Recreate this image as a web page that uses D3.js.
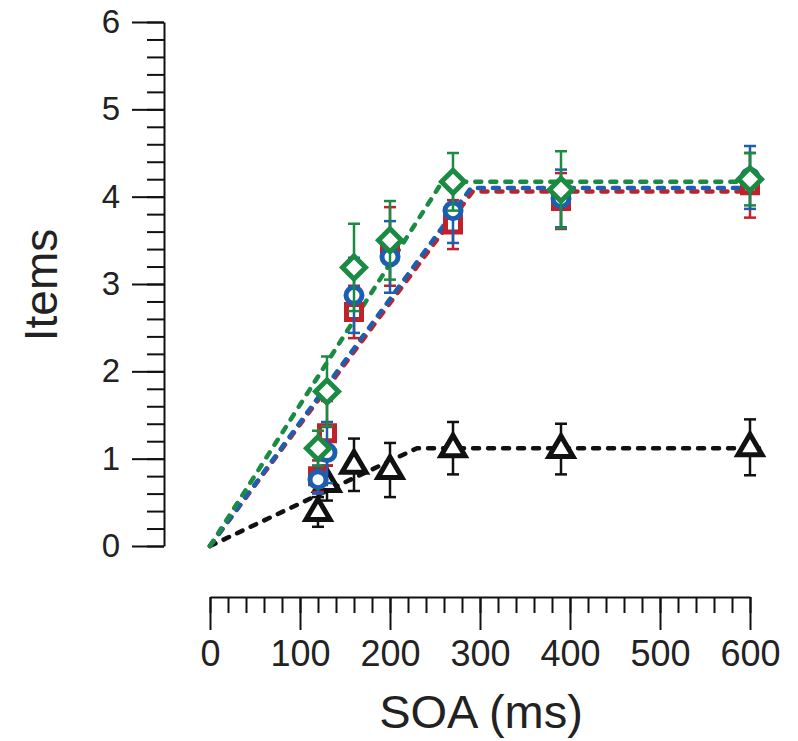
<!DOCTYPE html>
<html>
<head>
<meta charset="utf-8">
<script src="https://d3js.org/d3.v7.min.js"></script>
<style>
  body { margin: 0; background: #fff; }
  text { font-family: Arial, "Liberation Sans", sans-serif; fill: #222; }
</style>
</head>
<body>
<script>

// SOA conditions (ms)
var soa = [120, 130, 160, 200, 270, 390, 600];

// Mean items per condition, with error bar half-lengths.
var blackMean = [0.39, 0.72, 0.93, 0.87, 1.12, 1.11, 1.13];
var blackErr  = [0.17, 0.20, 0.30, 0.31, 0.30, 0.29, 0.32];
var redMean   = [0.80, 1.29, 2.68, 3.43, 3.68, 3.95, 4.13];
var redErr    = [0.18, 0.37, 0.30, 0.45, 0.28, 0.32, 0.37];
var blueMean  = [0.76, 1.07, 2.87, 3.31, 3.84, 3.98, 4.22];
var blueErr   = [0.16, 0.35, 0.43, 0.41, 0.37, 0.33, 0.36];
var greenMean = [1.12, 1.77, 3.19, 3.50, 4.17, 4.08, 4.20];
var greenErr  = [0.20, 0.40, 0.50, 0.45, 0.33, 0.44, 0.30];

// Piecewise-linear model fits: start, knee (x, y), end.
var fitX      = [0, null, 610];
var blackKnee = [230, 1.12];
var redKnee   = [292, 4.06];
var blueKnee  = [290, 4.10];
var greenKnee = [258, 4.17];

var xTicks = [0, 100, 200, 300, 400, 500, 600];
var yTicks = [0, 1, 2, 3, 4, 5, 6];

var W = 798, H = 741;

var svg = d3.select('body').append('svg')
  .attr('width', W).attr('height', H);

var x = d3.scaleLinear().domain([0, 600]).range([210, 750]);
var y = d3.scaleLinear().domain([0, 6]).range([546, 22]);

var yAxisX = 164, xAxisY = 597;

// Y axis: major ticks with labels, minor ticks every 0.2.
var yMinor = d3.range(0, 6.0001, 0.2);
svg.append('g')
  .attr('transform', 'translate(' + yAxisX + ',0)')
  .call(d3.axisLeft(y).tickValues(yMinor).tickSize(17)
    .tickSizeOuter(0).tickFormat(''))
  .call(function(g) { g.selectAll('path,line').attr('stroke', '#111')
    .attr('stroke-width', 2); });

var gy = svg.append('g')
  .attr('transform', 'translate(' + yAxisX + ',0)')
  .call(d3.axisLeft(y).tickValues(yTicks).tickSize(32)
    .tickSizeOuter(0).tickPadding(12).tickFormat(d3.format('d')));
gy.select('.domain').remove();
gy.selectAll('line').attr('stroke', '#111').attr('stroke-width', 2);
gy.selectAll('text').attr('font-size', 33).attr('fill', '#222')
  .attr('font-family', 'Arial, "Liberation Sans", sans-serif');

// X axis: ticks point down, minor every 20 ms.
var xMinor = d3.range(0, 600.001, 20);
svg.append('g')
  .attr('transform', 'translate(0,' + xAxisY + ')')
  .call(d3.axisBottom(x).tickValues(xMinor).tickSize(16)
    .tickSizeOuter(0).tickFormat(''))
  .call(function(g) { g.selectAll('path,line').attr('stroke', '#111')
    .attr('stroke-width', 2); });

var gx = svg.append('g')
  .attr('transform', 'translate(0,' + xAxisY + ')')
  .call(d3.axisBottom(x).tickValues(xTicks).tickSize(33)
    .tickSizeOuter(0).tickPadding(10).tickFormat(d3.format('d')));
gx.select('.domain').remove();
gx.selectAll('line').attr('stroke', '#111').attr('stroke-width', 2);
gx.selectAll('text').attr('font-size', 36).attr('fill', '#222')
  .attr('font-family', 'Arial, "Liberation Sans", sans-serif');

// Axis titles.
svg.append('text')
  .attr('transform', 'translate(57,285) rotate(-90)')
  .attr('text-anchor', 'middle')
  .attr('font-size', 46)
  .text('Items');

svg.append('text')
  .attr('x', 481).attr('y', 728)
  .attr('text-anchor', 'middle')
  .attr('font-size', 47)
  .text('SOA (ms)');

var series = [
  { color: '#111111', mean: blackMean, err: blackErr, knee: blackKnee, shape: 'triangle' },
  { color: '#c0222c', mean: redMean,   err: redErr,   knee: redKnee,   shape: 'square' },
  { color: '#1c5fb0', mean: blueMean,  err: blueErr,  knee: blueKnee,  shape: 'circle' },
  { color: '#1b8a42', mean: greenMean, err: greenErr, knee: greenKnee, shape: 'diamond' }
];

var line = d3.line().x(function(d) { return x(d[0]); })
  .y(function(d) { return y(d[1]); });

// Model fit lines (dashed).
series.forEach(function(s) {
  var pts = [[fitX[0], 0], s.knee, [fitX[2], s.knee[1]]];
  svg.append('path')
    .datum(pts)
    .attr('d', line)
    .attr('fill', 'none')
    .attr('stroke', s.color)
    .attr('stroke-width', 4.5)
    .attr('stroke-linecap', 'round')
    .attr('stroke-dasharray', '6,9');
});

var shapes = {
  triangle: 'M0,-13L12,7.5L-12,7.5Z',
  square: 'M-7.5,-7.5H7.5V7.5H-7.5Z',
  diamond: 'M0,-11.5L11.5,0L0,11.5L-11.5,0Z',
  circle: 'M8,0A8,8 0 1,1 -8,0A8,8 0 1,1 8,0Z'
};

// Error bars and markers.
series.forEach(function(s) {
  var g = svg.append('g');
  var pts = soa.map(function(v, i) {
    return { x: v, m: s.mean[i], e: s.err[i] };
  });

  var eb = g.selectAll('.eb').data(pts).enter().append('g')
    .attr('stroke', s.color).attr('stroke-width', 2.5);
  eb.append('line')
    .attr('x1', function(d) { return x(d.x); })
    .attr('x2', function(d) { return x(d.x); })
    .attr('y1', function(d) { return y(d.m - d.e); })
    .attr('y2', function(d) { return y(d.m + d.e); });
  [-1, 1].forEach(function(sg) {
    eb.append('line')
      .attr('x1', function(d) { return x(d.x) - 6; })
      .attr('x2', function(d) { return x(d.x) + 6; })
      .attr('y1', function(d) { return y(d.m + sg * d.e); })
      .attr('y2', function(d) { return y(d.m + sg * d.e); });
  });

  g.selectAll('.mk').data(pts).enter().append('path')
    .attr('d', shapes[s.shape])
    .attr('transform', function(d) {
      return 'translate(' + x(d.x) + ',' + y(d.m) + ')';
    })
    .attr('fill', '#fff')
    .attr('stroke', s.color)
    .attr('stroke-width', 5)
    .attr('stroke-linejoin', 'miter');
});

</script>
</body>
</html>
